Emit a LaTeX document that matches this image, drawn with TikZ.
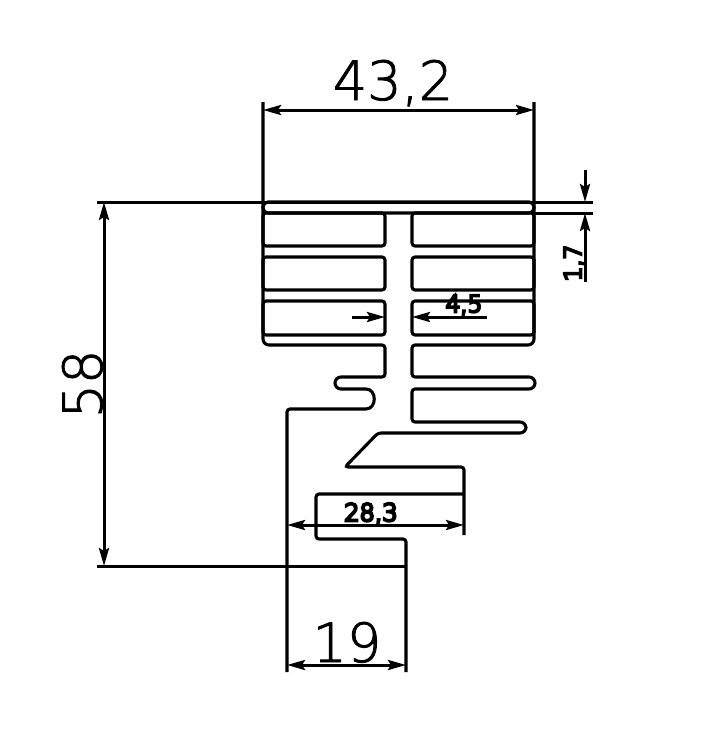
\documentclass[tikz,border=0pt]{standalone}
\usepackage{fontspec}
\usetikzlibrary{arrows.meta}
\newfontfamily\bigfont[RawFeature={embolden=1.6}]{DejaVu Sans ExtraLight}
\newfontfamily\smallfont[RawFeature={embolden=11}]{DejaVu Sans ExtraLight}
\tikzset{
  profile/.style={line width=3.1pt, rounded corners=3pt},
  arrowtip/.tip={Stealth[length=18pt,width=10pt,inset=3pt]},
  dimline/.style={line width=3pt, arrowtip-arrowtip},
  extline/.style={line width=3pt},
  biglabel/.style={anchor=base, inner sep=0pt, font=\bigfont\fontsize{54}{54}\selectfont},
  smalllabel/.style={anchor=base, inner sep=0pt, font=\smallfont\fontsize{24}{24}\selectfont}
}
\begin{document}
\begin{tikzpicture}[x=1pt, y=-1pt]
    \useasboundingbox (0,0) rectangle (721,744);
    % fins at the top
    \draw[profile, rounded corners=5pt] (263,202) rectangle (534,213);
    \foreach \ya/\yb in {213/246, 257/290, 301/335} {
        \draw[profile] (263,\ya) rectangle (385,\yb);
        \draw[profile] (412,\ya) rectangle (534,\yb);
    }
    % left side of the profile
    \draw[profile] (287,672) -- (287,409) -- (363,409)
        .. controls (377,409) and (377,389) .. (363,389)
        [rounded corners=6pt] -- (335,389) -- (335,377) [rounded corners=3pt] -- (385,377)
        -- (385,345) [rounded corners=6pt] -- (263,345) -- (263,102);
    % right side of the profile
    \draw[profile, rounded corners=6pt] (534,102) -- (534,345) [rounded corners=3pt] -- (412,345)
        -- (412,377) [rounded corners=6pt] -- (535,377) -- (535,389) [rounded corners=3pt] -- (412,389)
        -- (412,422) [rounded corners=6pt] -- (526,422) -- (526,433) [rounded corners=3pt] -- (378,433)
        -- (345,467) -- (464,467) -- (464,535);
    \draw[profile] (464,494) -- (316,494) -- (316,539) -- (406,539) -- (406,672);

    % extension lines
    \coordinate (topleft) at (97,202);
    \coordinate (topright) at (593,202);
    \coordinate (finleft) at (534,213);
    \coordinate (finright) at (593,213);
    \coordinate (bottomleft) at (97,566);
    \coordinate (bottomright) at (406,566);
    \draw[extline] (topleft) -- (topright);
    \draw[extline] (finleft) -- (finright);
    \draw[extline] (bottomleft) -- (bottomright);

    % dimensions
    \coordinate (widthleft) at (263,110);
    \coordinate (widthright) at (534,110);
    \coordinate (heighttop) at (104,202);
    \coordinate (heightbottom) at (104,566);
    \coordinate (footleft) at (287,665);
    \coordinate (footright) at (406,665);
    \coordinate (stepleft) at (287,525);
    \coordinate (stepright) at (464,525);
    \draw[dimline] (widthleft) -- (widthright);
    \draw[dimline] (heighttop) -- (heightbottom);
    \draw[dimline] (footleft) -- (footright);
    \draw[dimline] (stepleft) -- (stepright);

    % gap and fin dimensions have the arrows outside
    \coordinate (gapstart) at (352,317);
    \coordinate (gapleft) at (385,317);
    \coordinate (gapright) at (412,317);
    \coordinate (gapend) at (487,317);
    \coordinate (thickstart) at (585,170);
    \coordinate (thicktop) at (585,202);
    \coordinate (thickbottom) at (585,213);
    \coordinate (thickend) at (585,282);
    \draw[extline, -arrowtip] (gapstart) -- (gapleft);
    \draw[extline, -arrowtip] (gapend) -- (gapright);
    \draw[extline, -arrowtip] (thickstart) -- (thicktop);
    \draw[extline, -arrowtip] (thickend) -- (thickbottom);

    % labels
    \node (labelwidth) [biglabel] at (393,100) {43,2};
    \node (labelheight) [biglabel, rotate=90] at (102,384) {58};
    \node (labelfoot) [biglabel] at (347,662) {19};
    \node (labelstep) [smalllabel] at (371,521) {28,3};
    \node (labelgap) [smalllabel, font=\smallfont\fontsize{23}{23}\selectfont] at (464,312) {4,5};
    \node (labelthick) [smalllabel, rotate=90, font=\smallfont\fontsize{23}{23}\selectfont] at (581,263) {1,7};
\end{tikzpicture}
\end{document}
